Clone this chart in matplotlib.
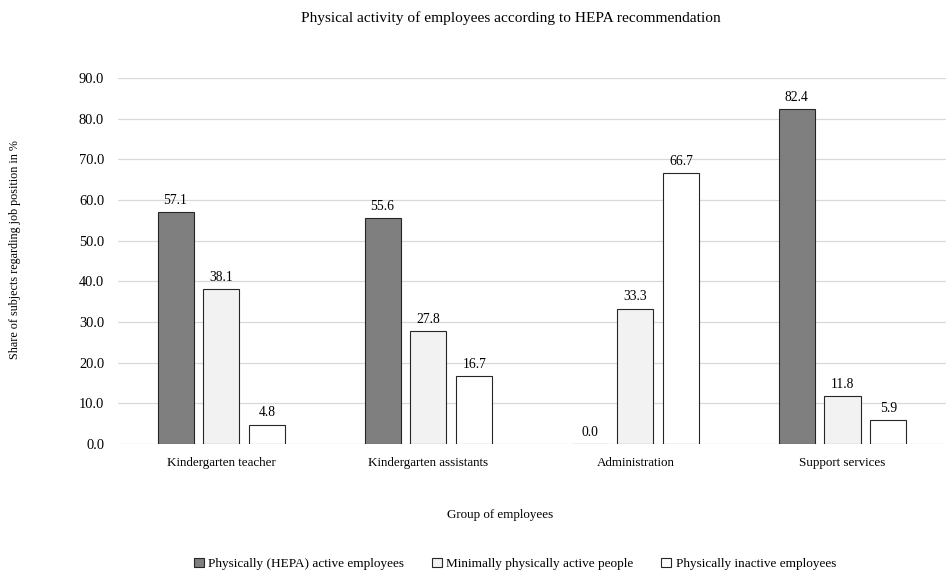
import numpy as np
import matplotlib.pyplot as plt

plt.rcParams['font.family'] = ['Liberation Serif', 'DejaVu Serif']

groups = ["Kindergarten teacher", "Kindergarten assistants", "Administration", "Support services"]
series_names = ["Physically (HEPA) active employees",
                "Minimally physically active people",
                "Physically inactive employees"]
hepa_active = [57.1, 55.6, 0.0, 82.4]
minimally_active = [38.1, 27.8, 33.3, 11.8]
inactive = [4.8, 16.7, 66.7, 5.9]
y_ticks = [0, 10, 20, 30, 40, 50, 60, 70, 80, 90]

colors = ["#7f7f7f", "#f2f2f2", "#ffffff"]

fig = plt.figure(figsize=(9.46, 5.70), dpi=100)
ax = fig.add_axes([0.1247, 0.221, 0.8753, 0.642])

x = np.arange(len(groups))
width = 0.174
step = 0.222

for i, (vals, name, col) in enumerate(zip([hepa_active, minimally_active, inactive], series_names, colors)):
    pos = x + (i - 1) * step
    ax.bar(pos, vals, width, color=col, edgecolor="#262626", linewidth=0.8, label=name, zorder=3)
    for p, v in zip(pos, vals):
        ax.text(p, v + 1.3, f"{v:.1f}", ha="center", va="bottom", fontsize=9.8, zorder=4)

ax.set_xlim(-0.5, 3.5)
ax.set_ylim(0, 90)
ax.set_yticks(y_ticks)
ax.set_yticklabels([f"{t:.1f}" for t in y_ticks], fontsize=10.4)
ax.set_xticks(x)
ax.set_xticklabels(groups, fontsize=9.4)
ax.tick_params(length=0)
ax.tick_params(axis="x", pad=9)
ax.tick_params(axis="y", pad=10)
ax.grid(axis="y", color="#d9d9d9", linewidth=0.9, zorder=0)
for s in ax.spines.values():
    s.set_visible(False)

# axis titles and chart title placed in figure coordinates
fig.text(15 / 946, 1 - 250 / 570, "Share of subjects regarding job position in %",
         rotation=90, ha="center", va="center", fontsize=8.7)
fig.text(500 / 946, 1 - 515 / 570, "Group of employees", ha="center", va="center", fontsize=9.4)
fig.text(511 / 946, 1 - 18 / 570, "Physical activity of employees according to HEPA recommendation",
         ha="center", va="center", fontsize=11.1)

fig.legend(loc="center", bbox_to_anchor=(515 / 946, 1 - 564 / 570), ncol=3, frameon=False, fontsize=9.5,
           handlelength=0.75, handleheight=0.75, handletextpad=0.35, columnspacing=2.1,
           borderpad=0, borderaxespad=0)

fig.savefig("out.png", dpi=100)
